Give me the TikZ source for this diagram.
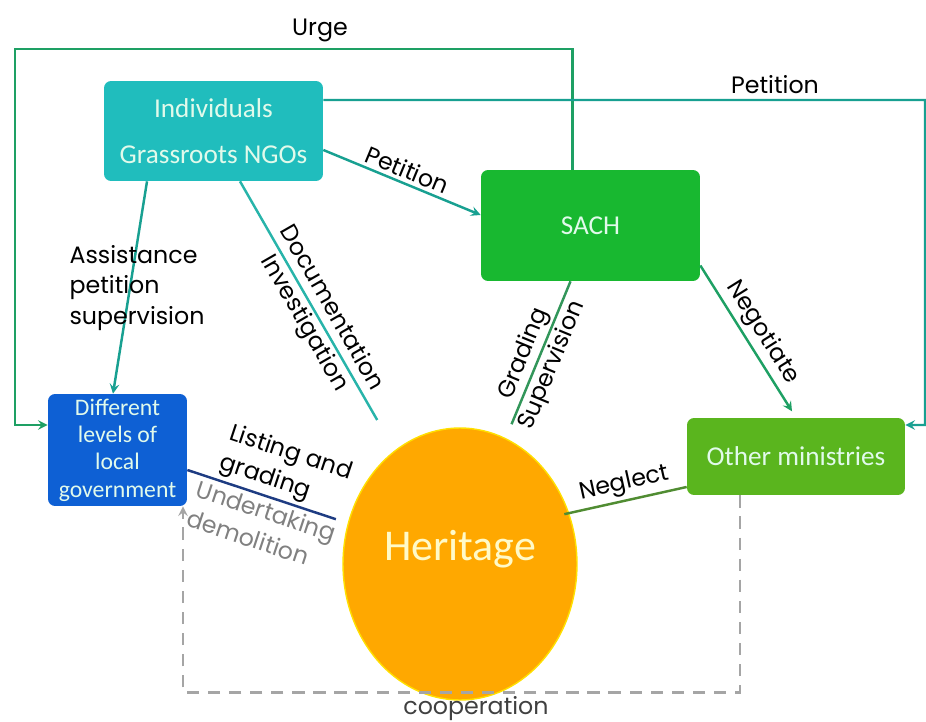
\documentclass[tikz,border=0pt]{standalone}
\usepackage{fontspec}
\setmainfont{Carlito}
\newfontfamily\lblfont{Poppins}
\usetikzlibrary{shapes,arrows,positioning,calc}

\definecolor{indivcol}{RGB}{32,189,189}
\definecolor{sachcol}{RGB}{24,184,48}
\definecolor{govcol}{RGB}{14,96,212}
\definecolor{mincol}{RGB}{90,181,30}
\definecolor{heritcol}{RGB}{255,168,0}
\definecolor{heritedge}{RGB}{255,224,0}
\definecolor{heritext}{RGB}{255,250,200}
\definecolor{boxtext}{RGB}{225,250,235}
\definecolor{urgecol}{RGB}{30,160,100}
\definecolor{petcol}{RGB}{24,160,145}
\definecolor{doccol}{RGB}{40,180,170}
\definecolor{gradcol}{RGB}{50,150,90}
\definecolor{listcol}{RGB}{30,60,130}
\definecolor{neglcol}{RGB}{80,140,50}
\definecolor{coopcol}{RGB}{165,165,165}

\begin{document}
\begin{tikzpicture}[x=0.02cm, y=-0.02cm, >=stealth,
    box/.style={rectangle, rounded corners=4pt, text=boxtext, align=center, inner sep=2pt},
    lbl/.style={font=\lblfont\fontsize{13.5}{17.5}\selectfont, text=black, inner sep=2pt},
    link/.style={line width=1.4pt}]
    \useasboundingbox (0,0) rectangle (926,722);

    \node[box, fill=indivcol, minimum width=4.38cm, minimum height=2cm, font=\fontsize{15.5}{18}\selectfont] (indiv) at (213.5,131) {Individuals\\[8pt]Grassroots NGOs};
    \node[box, fill=sachcol, minimum width=4.38cm, minimum height=2.22cm, font=\fontsize{15.5}{18}\selectfont] (sach) at (590.5,225.5) {SACH};
    \node[box, fill=govcol, minimum width=2.78cm, minimum height=2.24cm, font=\fontsize{13.5}{15.5}\selectfont] (gov) at (117.5,450) {Different\\levels of\\local\\government};
    \node[box, fill=mincol, minimum width=4.36cm, minimum height=1.54cm, font=\fontsize{15.5}{18}\selectfont] (others) at (796,456.5) {Other ministries};
    \node[ellipse, fill=heritcol, draw=heritedge, line width=0.8pt, minimum width=4.68cm, minimum height=5.44cm, inner sep=0pt] (heritage) at (460,564) {};
    \node[text=heritext, font=\fontsize{25}{30}\selectfont] (heritext) at ([yshift=0.3cm]heritage.center) {Heritage};

    % urge and petition round the outside
    \draw[link, ->, draw=urgecol] ([xshift=-0.36cm]sach.north) |- (15,49) |- ([yshift=0.5cm]gov.west);
    \node[lbl] (urge) at (320,30) {Urge};
    \draw[link, ->, draw=petcol] ([yshift=0.62cm]indiv.east) -- (925,100) |- ([yshift=0.63cm]others.east);
    \node[lbl] (petitiontop) at (775,85) {Petition};

    \draw[link, ->, draw=petcol] ([yshift=-0.38cm]indiv.east) -- node[lbl, sloped, above] {Petition} ([yshift=0.21cm]sach.west);
    \draw[link, ->, draw=petcol] ([xshift=-1.33cm]indiv.south) -- ([xshift=-0.09cm]gov.north);
    \node[lbl, align=left] (assist) at (137,288) {Assistance\\petition\\supervision};

    \draw[link, draw=doccol, shorten >=0.7cm] ([xshift=0.53cm]indiv.south) -- node[lbl, sloped, align=center] {Documentation\\Investigation} (heritage);
    \draw[link, draw=gradcol, shorten >=0.3cm] ([xshift=-0.4cm]sach.south) -- node[lbl, sloped, align=center] {Grading\\Supervision} (heritage.70);
    \draw[link, ->, draw=urgecol, shorten >=0.15cm] ([yshift=-0.8cm]sach.east) -- node[lbl, sloped, above] {Negotiate} (others.north);

    \draw[link, draw=listcol, shorten >=0.25cm] ([yshift=-0.4cm]gov.east) -- node[lbl, sloped, above, align=left, pos=0.55] {Listing and\\grading} node[lbl, sloped, below, align=left, pos=0.52, text=gray] {Undertaking\\demolition} (heritage.160);
    \draw[link, draw=neglcol, shorten <=-0.1cm] (heritage.25) -- node[lbl, sloped, above] {Neglect} ([yshift=-0.61cm]others.west);

    % cooperation
    \draw[link, ->, dashed, dash pattern=on 7pt off 5pt, draw=coopcol] ([xshift=-1.12cm]others.south) -- ++(0,197) -| ([xshift=1.31cm]gov.south);
    \node[lbl, text=darkgray] (coop) at (476,709) {cooperation};
\end{tikzpicture}
\end{document}
